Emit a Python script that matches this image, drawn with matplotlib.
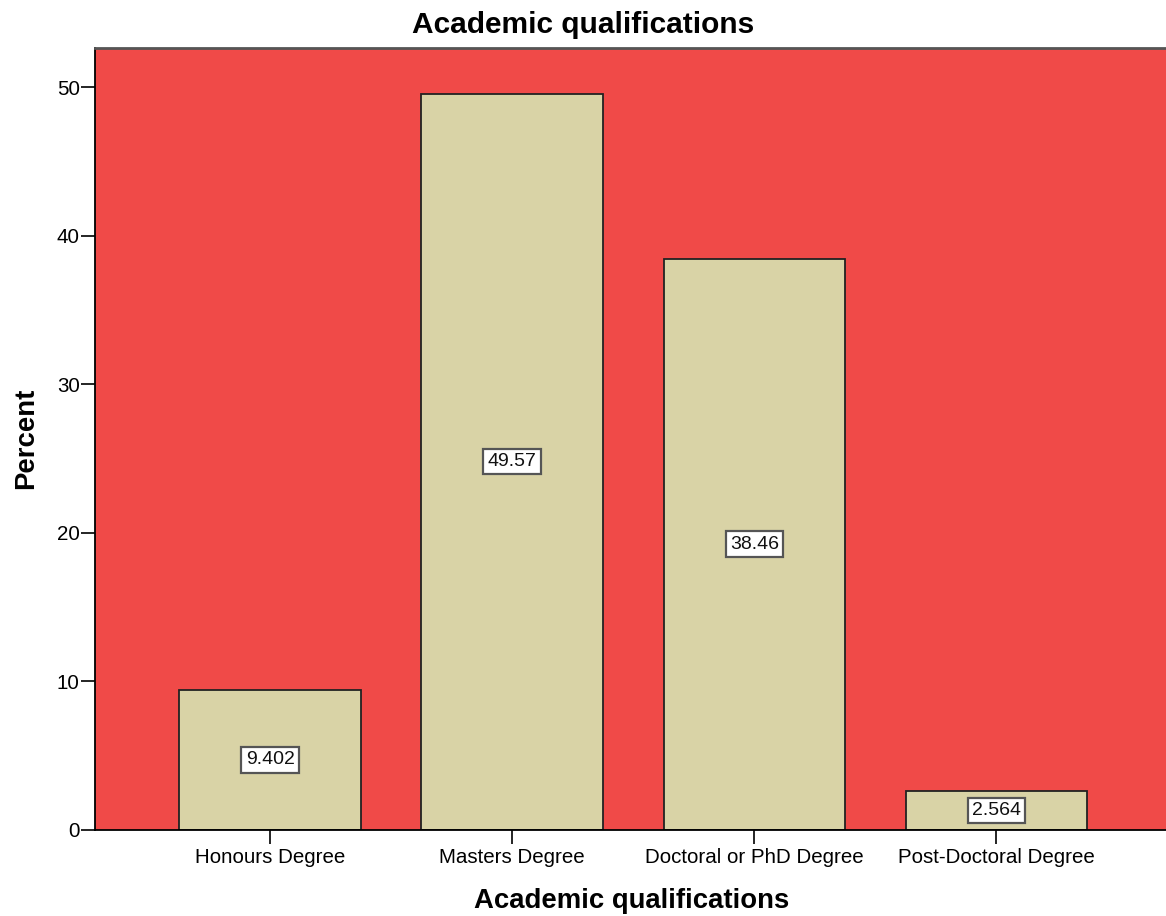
import matplotlib
matplotlib.use("Agg")
import matplotlib.pyplot as plt

categories = ["Honours Degree", "Masters Degree", "Doctoral or PhD Degree", "Post-Doctoral Degree"]
percents = [9.402, 49.57, 38.46, 2.564]
value_labels = ["9.402", "49.57", "38.46", "2.564"]
yticks = [0, 10, 20, 30, 40, 50]

plt.rcParams['font.family'] = ['Liberation Sans', 'DejaVu Sans']

W, H = 1166, 916
fig = plt.figure(figsize=(W / 100, H / 100), dpi=100)
ax = fig.add_axes([95 / W, (H - 829.5) / H, 1 - 95 / W, (829.5 - 48) / H])
ax.set_facecolor("#F04A48")

x = list(range(len(categories)))
ax.bar(x, percents, width=0.75, color="#D9D3A6", edgecolor="#222222", linewidth=1.3, zorder=2)

for xi, v, lab in zip(x, percents, value_labels):
    ax.text(xi, v / 2, lab, ha="center", va="center", fontsize=14, color="#111111", zorder=4,
            bbox=dict(boxstyle="square,pad=0.22", facecolor="white", edgecolor="#555555", linewidth=1.6))

ax.set_xlim(-0.723, 3.70)
ax.set_ylim(0, 52.66)
ax.set_yticks(yticks)
ax.set_xticks(x)
ax.set_xticklabels(categories, fontsize=14.8)
ax.tick_params(axis="y", labelsize=14.8, length=10, width=1.2, direction="out", pad=1)
ax.tick_params(axis="x", length=10, width=1.2, direction="out", pad=3)

for s in ["left", "bottom"]:
    ax.spines[s].set_color("black")
    ax.spines[s].set_linewidth(1.3)
ax.spines["top"].set_color("#555555")
ax.spines["top"].set_linewidth(2)
ax.spines["right"].set_visible(False)

ax.set_xlabel("Academic qualifications", fontsize=19.8, fontweight="bold")
ax.xaxis.label.set_va("center")
ax.xaxis.set_label_coords((583 - 95) / 1071 + 0.0455, -(901 - 829.5) / 781.5)
ax.set_ylabel("Percent", fontsize=19.8, fontweight="bold")
ax.yaxis.label.set_va("center")
ax.yaxis.set_label_coords(-(95 - 26) / 1071, 0.5)
fig.text(583 / W, 1 - 25 / H, "Academic qualifications", ha="center", va="center",
         fontsize=21.5, fontweight="bold")

fig.savefig("out.png", dpi=100)
